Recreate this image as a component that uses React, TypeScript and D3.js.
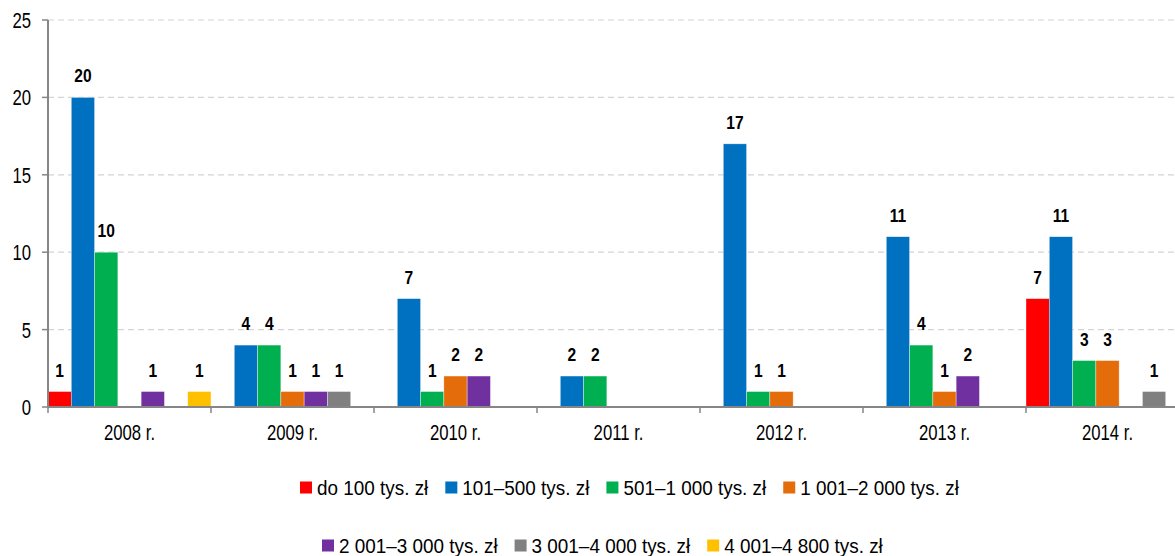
import * as d3 from 'd3';
import React, { useEffect, useRef } from 'react';

const years = ['2008 r.', '2009 r.', '2010 r.', '2011 r.', '2012 r.', '2013 r.', '2014 r.'];

const seriesNames = [
  'do 100 tys. zł',
  '101–500 tys. zł',
  '501–1 000 tys. zł',
  '1 001–2 000 tys. zł',
  '2 001–3 000 tys. zł',
  '3 001–4 000 tys. zł',
  '4 001–4 800 tys. zł',
];

const seriesColors = ['#ff0000', '#0070c0', '#00b050', '#e46c0a', '#7030a0', '#808080', '#ffc000'];

// one array per series, values per year 2008..2014
const upTo100 = [1, 0, 0, 0, 0, 0, 7];
const from101to500 = [20, 4, 7, 2, 17, 11, 11];
const from501to1000 = [10, 4, 1, 2, 1, 4, 3];
const from1001to2000 = [0, 1, 2, 0, 1, 1, 3];
const from2001to3000 = [1, 1, 2, 0, 0, 2, 0];
const from3001to4000 = [0, 1, 0, 0, 0, 0, 1];
const from4001to4800 = [1, 0, 0, 0, 0, 0, 0];

const seriesValues = [upTo100, from101to500, from501to1000, from1001to2000, from2001to3000, from3001to4000, from4001to4800];

const yTicks = [0, 5, 10, 15, 20, 25];

const legendRows = [[0, 1, 2, 3], [4, 5, 6]];

const FONT = '"Liberation Sans", Arial, sans-serif';

export default function App() {
  const ref = useRef<SVGSVGElement>(null);
  const width = 1175;
  const height = 556;
  const margin = { top: 20, left: 48, bottom: 149 };
  const plotRight = 1189;

  useEffect(() => {
    const svg = d3.select(ref.current);
    svg.selectAll('*').remove();

    // text helper, squeezed horizontally to get the narrow look
    const label = (parent, tx, ty, txt, size, anchor, squeeze, bold?) =>
      parent.append('text')
        .attr('transform', 'translate(' + tx + ',' + ty + ') scale(' + squeeze + ',1)')
        .attr('text-anchor', anchor)
        .style('font-family', FONT)
        .style('font-size', size + 'px')
        .style('font-weight', bold ? 'bold' : 'normal')
        .attr('fill', '#000')
        .text(txt);

    const x0 = d3.scaleBand().domain(years).range([margin.left, plotRight]).padding(0);
    const x1 = d3.scaleBand().domain(seriesNames).range([0, x0.bandwidth()]).padding(0);
    const y = d3.scaleLinear().domain([0, 25]).range([height - margin.bottom, margin.top]);

    // gridlines
    svg.append('g')
      .selectAll('line')
      .data(yTicks.filter(t => t > 0))
      .enter()
      .append('line')
      .attr('x1', margin.left)
      .attr('x2', width)
      .attr('y1', d => y(d))
      .attr('y2', d => y(d))
      .attr('stroke', '#d4d4d4')
      .attr('stroke-width', 1.2)
      .attr('stroke-dasharray', '6,4');

    // bars + value labels
    years.forEach((yr, i) => {
      const g = svg.append('g').attr('transform', 'translate(' + x0(yr) + ',0)');
      seriesNames.forEach((s, k) => {
        const v = seriesValues[k][i];
        if (!v) return;
        g.append('rect')
          .attr('x', x1(s))
          .attr('width', x1.bandwidth())
          .attr('y', y(v))
          .attr('height', y(0) - y(v))
          .attr('fill', seriesColors[k])
          .attr('stroke', 'rgba(255,255,255,0.6)')
          .attr('stroke-width', 0.6);
        label(g, x1(s) + x1.bandwidth() / 2, y(v) - 15, v, 19, 'middle', 0.82, true);
      });
    });

    // y axis
    svg.append('line')
      .attr('x1', margin.left)
      .attr('x2', margin.left)
      .attr('y1', y(25))
      .attr('y2', y(0))
      .attr('stroke', '#868686')
      .attr('stroke-width', 2);
    yTicks.forEach(t => {
      svg.append('line')
        .attr('x1', margin.left - 6)
        .attr('x2', margin.left)
        .attr('y1', y(t))
        .attr('y2', y(t))
        .attr('stroke', '#868686')
        .attr('stroke-width', 1.5);
      label(svg, 31, y(t) + 8, t, 22, 'end', 0.76);
    });

    // x axis
    const xAxisY = y(0);
    svg.append('line')
      .attr('x1', margin.left)
      .attr('x2', width)
      .attr('y1', xAxisY)
      .attr('y2', xAxisY)
      .attr('stroke', '#868686')
      .attr('stroke-width', 2);

    years.forEach(yr => {
      svg.append('line')
        .attr('x1', x0(yr))
        .attr('x2', x0(yr))
        .attr('y1', xAxisY)
        .attr('y2', xAxisY + 6)
        .attr('stroke', '#868686')
        .attr('stroke-width', 1.5);
      label(svg, x0(yr) + x0.bandwidth() / 2, xAxisY + 33, yr, 22, 'middle', 0.76);
    });

    // legend
    const rowStarts = [300, 322];
    const rowBase = [495, 553];
    legendRows.forEach((row, r) => {
      let cx = rowStarts[r];
      row.forEach(k => {
        svg.append('rect')
          .attr('x', cx)
          .attr('y', rowBase[r] - 13.5)
          .attr('width', 12)
          .attr('height', 12)
          .attr('fill', seriesColors[k]);
        const t = label(svg, cx + 17, rowBase[r], seriesNames[k], 21, 'start', 0.9);
        const w = (t.node() as SVGTextElement).getComputedTextLength() * 0.9;
        cx += 17 + w + 17;
      });
    });
  }, []);

  return (
    <svg
      ref={ref}
      width={width}
      height={height}
      style={{ position: 'absolute', left: 0, top: 0, background: '#fff' }}
    />
  );
}
